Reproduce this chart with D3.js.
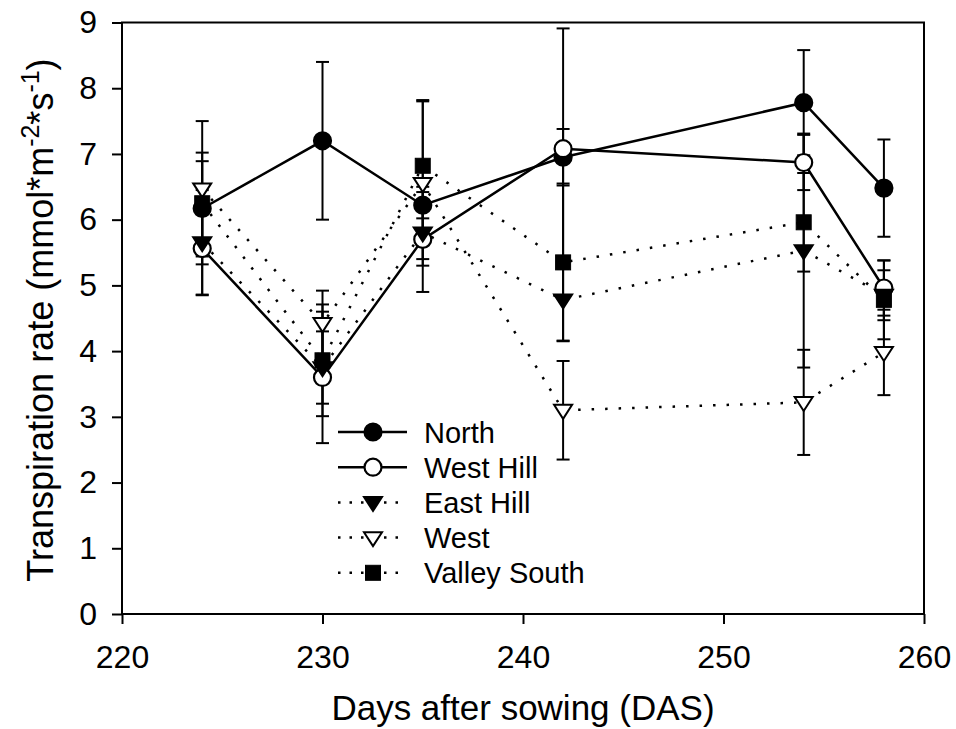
<!DOCTYPE html>
<html>
<head>
<meta charset="utf-8">
<script src="https://cdn.jsdelivr.net/npm/d3@7"></script>
<style>
  body { margin: 0; background: #fff; }
  svg text { font-family: "Liberation Sans", Arial, sans-serif; fill: #000; }
</style>
</head>
<body>
<div id="chart"></div>
<script>
// days after sowing
const days = [224, 230, 235, 242, 254, 258];

// transpiration rate means and errors per site
const northVals = [6.17, 7.2, 6.22, 6.95, 7.78, 6.48];
const northErr = [0.85, 1.2, 0.2, 0.43, 0.8, 0.74];
const westHillVals = [5.56, 3.6, 5.7, 7.08, 6.87, 4.96];
const westHillErr = [0.7, 1.0, 0.8, 1.83, 0.42, 0.42];
const eastHillVals = [5.65, 3.75, 5.8, 4.78, 5.53, 4.85];
const eastHillErr = [0.8, 0.55, 0.4, 0.62, 1.78, 0.38];
const westVals = [6.47, 4.42, 6.55, 3.1, 3.22, 3.98];
const westErr = [1.03, 0.5, 1.25, 0.75, 0.8, 0.65];
const valleyVals = [6.25, 3.86, 6.82, 5.35, 5.96, 4.78];
const valleyErr = [0.64, 0.85, 1.0, 1.2, 0.75, 0.6];

const xTicks = [220, 230, 240, 250, 260];
const yTicks = [0, 1, 2, 3, 4, 5, 6, 7, 8, 9];

const series = [
    {name: "North", vals: northVals, err: northErr, dash: null, shape: "circle", fill: "#000"},
    {name: "West Hill", vals: westHillVals, err: westHillErr, dash: null, shape: "circle", fill: "#fff"},
    {name: "East Hill", vals: eastHillVals, err: eastHillErr, dash: "2.5,11", shape: "tri", fill: "#000"},
    {name: "West", vals: westVals, err: westErr, dash: "2.5,11", shape: "tri", fill: "#fff"},
    {name: "Valley South", vals: valleyVals, err: valleyErr, dash: "2.5,11", shape: "square", fill: "#000"}
];

const W = 956, H = 729;
const margin = {top: 22.5, right: 32, bottom: 115, left: 122};
const width = W - margin.left - margin.right;
const height = H - margin.top - margin.bottom;

const svg = d3.select("#chart")
    .append("svg")
    .attr("width", W)
    .attr("height", H);

const g = svg.append("g")
    .attr("transform", "translate(" + margin.left + "," + margin.top + ")");

const x = d3.scaleLinear().domain([220, 260]).range([0, width]);
const y = d3.scaleLinear().domain([0, 9]).range([height, 0]);

// axes
const xAxis = g.append("g")
    .attr("transform", "translate(0," + height + ")")
    .call(d3.axisBottom(x).tickValues(xTicks).tickSize(10).tickPadding(21).tickFormat(d3.format("d")));
const yAxis = g.append("g")
    .call(d3.axisLeft(y).tickValues(yTicks).tickSize(10).tickPadding(15));
[xAxis, yAxis].forEach(function (a) {
    a.select(".domain").remove();
    a.selectAll("line").attr("stroke", "#000").attr("stroke-width", 2);
    a.selectAll("text").attr("font-size", 32).attr("fill", "#000");
});

// frame
g.append("rect")
    .attr("width", width)
    .attr("height", height)
    .attr("fill", "none")
    .attr("stroke", "#000")
    .attr("stroke-width", 2);

// axis titles
g.append("text")
    .attr("x", width / 2)
    .attr("y", height + 106)
    .attr("text-anchor", "middle")
    .attr("font-size", 35)
    .text("Days after sowing (DAS)");

const yt = svg.append("text")
    .attr("transform", "translate(53,320) rotate(-90)")
    .attr("text-anchor", "middle")
    .attr("font-size", 36);
yt.append("tspan").text("Transpiration rate (mmol*m");
yt.append("tspan").attr("baseline-shift", "super").attr("font-size", 25).text("-2");
yt.append("tspan").text("*s");
yt.append("tspan").attr("baseline-shift", "super").attr("font-size", 25).text("-1");
yt.append("tspan").text(")");

function drawMarker(sel, s, cx, cy) {
    if (s.shape === "circle") {
        sel.append("circle").attr("cx", cx).attr("cy", cy).attr("r", 8.5)
            .attr("fill", s.fill).attr("stroke", "#000").attr("stroke-width", 2.2);
    } else if (s.shape === "square") {
        sel.append("rect").attr("x", cx - 7.5).attr("y", cy - 7.5).attr("width", 15).attr("height", 15)
            .attr("fill", s.fill).attr("stroke", "#000").attr("stroke-width", 1);
    } else {
        const r = 9;
        const pts = [[cx - r, cy - r * 0.6], [cx + r, cy - r * 0.6], [cx, cy + r * 0.95]];
        sel.append("path").attr("d", "M" + pts.join("L") + "Z")
            .attr("fill", s.fill).attr("stroke", "#000").attr("stroke-width", 2)
            .attr("stroke-linejoin", "miter");
    }
}

const plot = g.append("g");

// error bars
series.forEach(function (s) {
    const eb = plot.append("g");
    days.forEach(function (d, i) {
        const cx = x(d);
        const top = y(s.vals[i] + s.err[i]);
        const bot = y(s.vals[i] - s.err[i]);
        eb.append("line").attr("x1", cx).attr("x2", cx).attr("y1", top).attr("y2", bot)
            .attr("stroke", "#000").attr("stroke-width", 2);
        [top, bot].forEach(function (yy) {
            eb.append("line").attr("x1", cx - 6.5).attr("x2", cx + 6.5).attr("y1", yy).attr("y2", yy)
                .attr("stroke", "#000").attr("stroke-width", 2);
        });
    });
});

// lines
const line = d3.line()
    .x(function (d, i) { return x(days[i]); })
    .y(function (d) { return y(d); });
series.forEach(function (s) {
    plot.append("path")
        .datum(s.vals)
        .attr("fill", "none")
        .attr("stroke", "#000")
        .attr("stroke-width", 2.5)
        .attr("stroke-dasharray", s.dash)
        .attr("d", line);
});

// markers
series.forEach(function (s) {
    const mg = plot.append("g");
    days.forEach(function (d, i) {
        drawMarker(mg, s, x(d), y(s.vals[i]));
    });
});

// legend
const legend = svg.append("g").attr("transform", "translate(338,432)");
series.forEach(function (s, i) {
    const row = legend.append("g").attr("transform", "translate(0," + (i * 35.2) + ")");
    row.append("line").attr("x1", 0).attr("x2", 69).attr("y1", 0).attr("y2", 0)
        .attr("stroke", "#000").attr("stroke-width", 2.5)
        .attr("stroke-dasharray", s.dash ? "2.5,9" : null);
    drawMarker(row, s, 35, 0);
    row.append("text").attr("x", 86).attr("y", 10.5).attr("font-size", 29).text(s.name);
});
</script>
</body>
</html>
